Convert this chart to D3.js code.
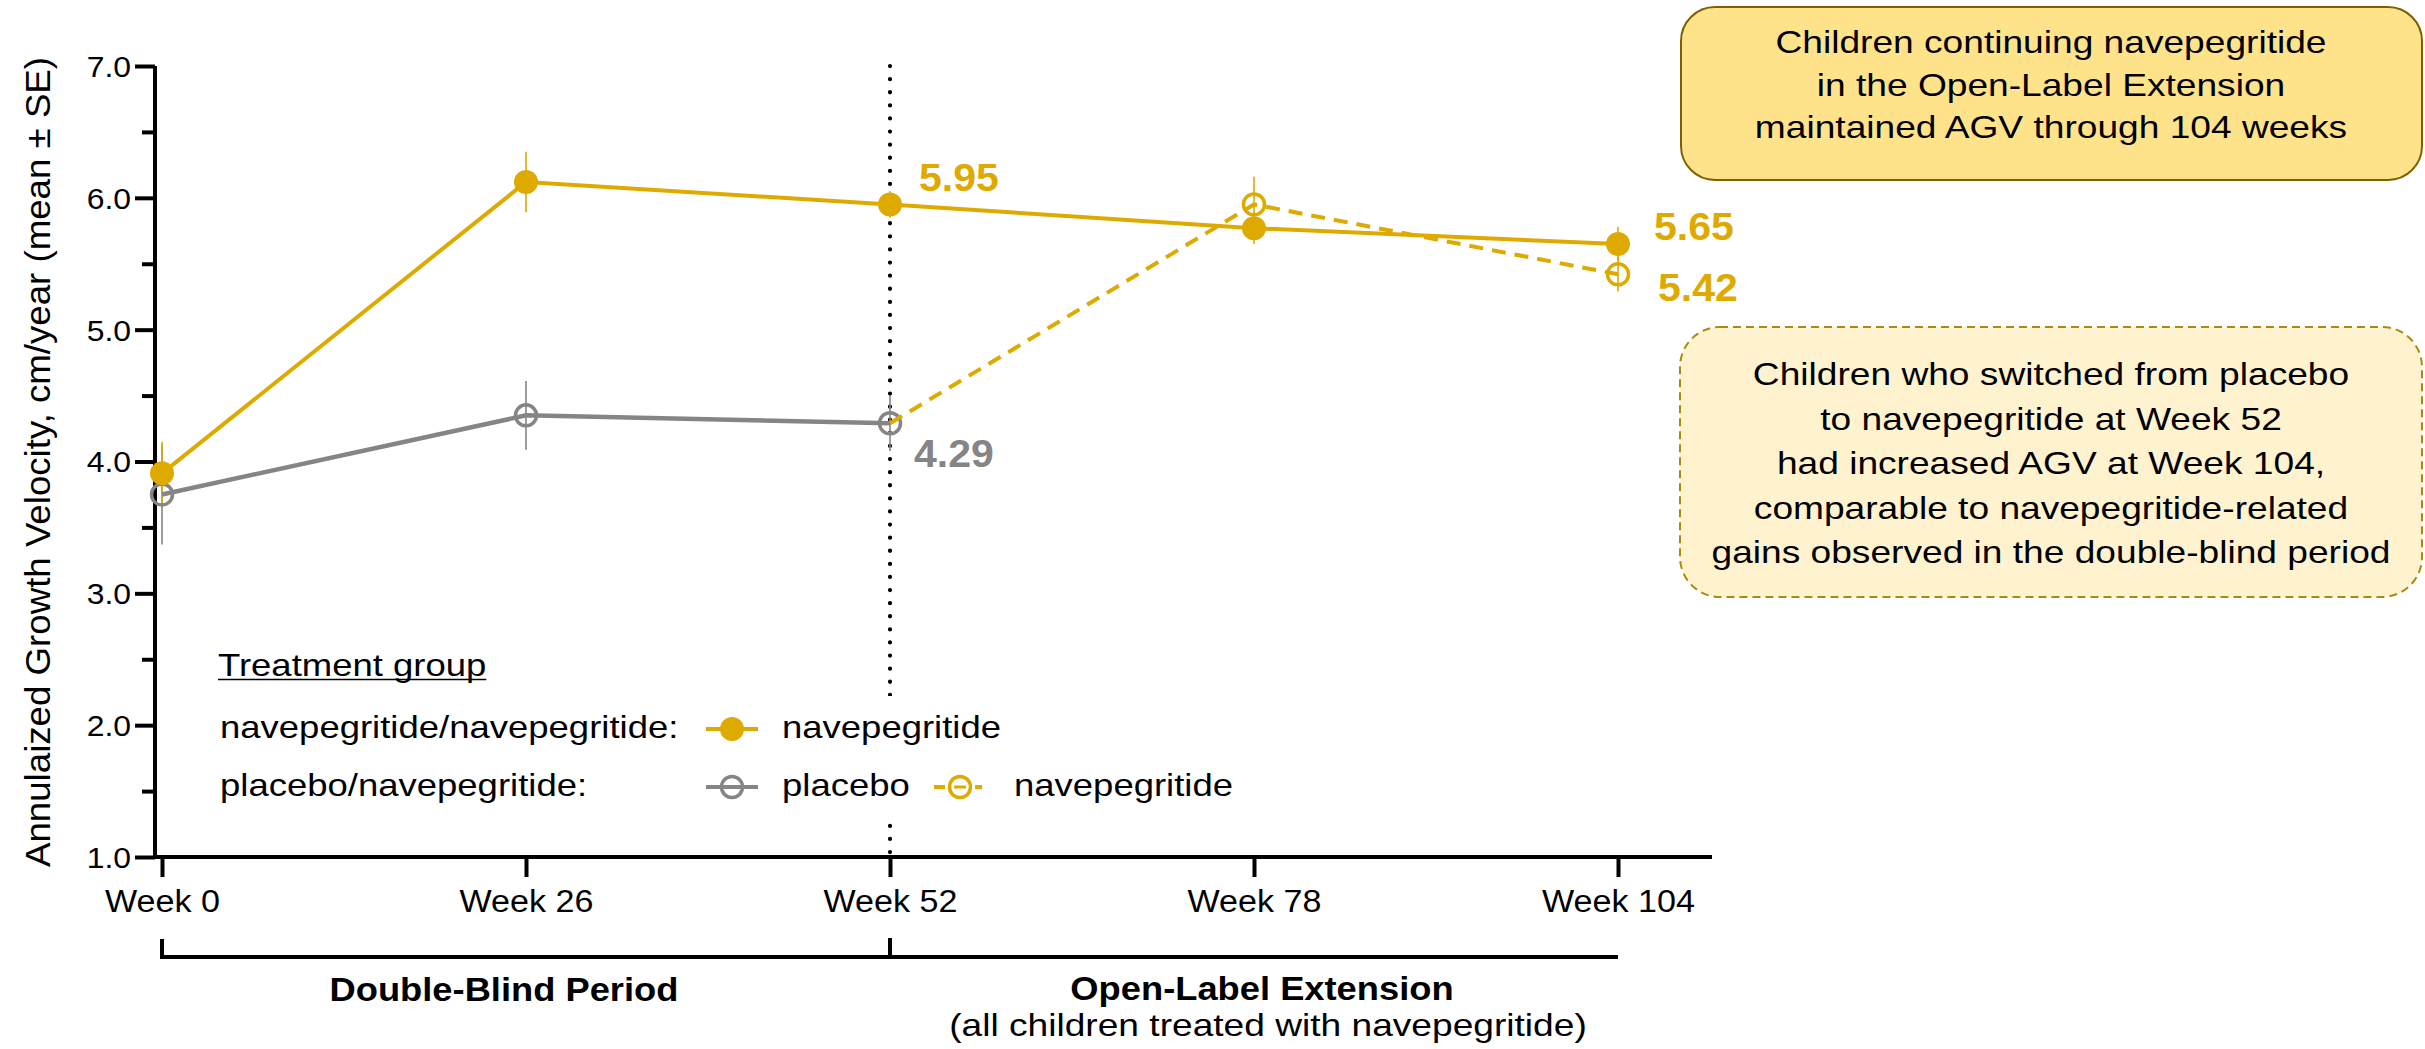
<!DOCTYPE html>
<html>
<head>
<meta charset="utf-8">
<script src="https://cdn.jsdelivr.net/npm/d3@7"></script>
<style>
  body { margin: 0; background: #fff; }
  svg { display: block; font-family: "Liberation Sans", Arial, sans-serif; }
</style>
</head>
<body>
<svg id="chart" width="2425" height="1049"></svg>
<script>
// weeks on the x axis
var weeks = ["Week 0", "Week 26", "Week 52", "Week 78", "Week 104"];
var yTicks = [1, 2, 3, 4, 5, 6, 7];
var yMinor = [1.5, 2.5, 3.5, 4.5, 5.5, 6.5];

// navepegritide/navepegritide
var navWeeks = ["Week 0", "Week 26", "Week 52", "Week 78", "Week 104"];
var navMean = [3.91, 6.12, 5.95, 5.77, 5.65];
var navSE = [0.24, 0.23, 0.10, 0.12, 0.13];

// placebo (double-blind period)
var pboWeeks = ["Week 0", "Week 26", "Week 52"];
var pboMean = [3.75, 4.35, 4.29];
var pboSE = [0.38, 0.26, 0.21];

// placebo -> navepegritide (open-label extension)
var oleWeeks = ["Week 52", "Week 78", "Week 104"];
var oleMean = [4.29, 5.95, 5.42];
var oleSE = [0, 0.21, 0.13];

var gold = "#DEAA00", grey = "#858585";

var svg = d3.select("#chart");

var x = d3.scalePoint().domain(weeks).range([162, 1618]);
var y = d3.scaleLinear().domain([1, 7]).range([857, 66]);

// widen text a bit, the source artwork is horizontally stretched
function stretch(sel, k) {
  sel.each(function () {
    var w = this.getComputedTextLength();
    d3.select(this).attr("textLength", w * k).attr("lengthAdjust", "spacingAndGlyphs");
  });
}

// ---- axes
var yAxis = svg.append("g")
  .attr("transform", "translate(155,0)")
  .call(d3.axisLeft(y).tickValues(yTicks).tickFormat(d3.format(".1f")).tickSize(20).tickSizeOuter(0).tickPadding(4));
yAxis.select(".domain").attr("stroke-width", 4).attr("d", "M0,859V66");
yAxis.selectAll(".tick line").attr("stroke-width", 4);
yAxis.selectAll(".tick text").attr("font-size", 29).attr("font-family", "Liberation Sans, Arial").attr("fill", "#000").attr("dy", "0.36em");
stretch(yAxis.selectAll(".tick text"), 1.1);

var yMin = svg.append("g")
  .attr("transform", "translate(155,0)")
  .call(d3.axisLeft(y).tickValues(yMinor).tickFormat("").tickSize(13).tickSizeOuter(0));
yMin.select(".domain").remove();
yMin.selectAll(".tick line").attr("stroke-width", 4);

var xAxis = svg.append("g")
  .attr("transform", "translate(0,857)")
  .call(d3.axisBottom(x).tickSize(20).tickSizeOuter(0).tickPadding(13));
xAxis.select(".domain").attr("stroke-width", 4).attr("d", "M153,0H1712");
xAxis.selectAll(".tick line").attr("stroke-width", 4);
xAxis.selectAll(".tick text").attr("font-size", 31).attr("font-family", "Liberation Sans, Arial").attr("fill", "#000");
stretch(xAxis.selectAll(".tick text"), 1.1);

// y title
svg.append("text")
  .attr("transform", "translate(38,462) rotate(-90)")
  .attr("text-anchor", "middle")
  .attr("dy", "0.35em")
  .attr("font-size", 35)
  .text("Annulaized Growth Velocity, cm/year (mean \u00b1 SE)")
  .attr("textLength", 810).attr("lengthAdjust", "spacingAndGlyphs");

// dotted divider at week 52
svg.append("line")
  .attr("x1", x("Week 52")).attr("x2", x("Week 52"))
  .attr("y1", y(7)).attr("y2", y(1) - 4)
  .attr("stroke", "#000").attr("stroke-width", 4.2)
  .attr("stroke-linecap", "round").attr("stroke-dasharray", "0.1 13");

// ---- series
function pts(ws, ms, ss) {
  return ws.map(function (w, i) { return { w: w, m: ms[i], se: ss[i] }; });
}
var nav = pts(navWeeks, navMean, navSE);
var pbo = pts(pboWeeks, pboMean, pboSE);
var ole = pts(oleWeeks, oleMean, oleSE);

var line = d3.line().x(function (d) { return x(d.w); }).y(function (d) { return y(d.m); });

function errBars(data, color) {
  svg.append("g").selectAll("line").data(data.filter(function (d) { return d.se > 0; }))
    .enter().append("line")
    .attr("x1", function (d) { return x(d.w); }).attr("x2", function (d) { return x(d.w); })
    .attr("y1", function (d) { return y(d.m + d.se); }).attr("y2", function (d) { return y(d.m - d.se); })
    .attr("stroke", color).attr("stroke-width", 1.6);
}
errBars(pbo, grey);
errBars(ole, gold);
errBars(nav, gold);

// placebo
svg.append("path").datum(pbo).attr("d", line)
  .attr("fill", "none").attr("stroke", grey).attr("stroke-width", 4.5);
svg.append("g").selectAll("circle").data(pbo).enter().append("circle")
  .attr("cx", function (d) { return x(d.w); }).attr("cy", function (d) { return y(d.m); })
  .attr("r", 10.5).attr("fill", "none").attr("stroke", grey).attr("stroke-width", 3.5);

// switched to navepegritide
svg.append("path").datum(ole).attr("d", line)
  .attr("fill", "none").attr("stroke", gold).attr("stroke-width", 4)
  .attr("stroke-dasharray", "14 9");
svg.append("g").selectAll("circle").data(ole.slice(1)).enter().append("circle")
  .attr("cx", function (d) { return x(d.w); }).attr("cy", function (d) { return y(d.m); })
  .attr("r", 10.5).attr("fill", "none").attr("stroke", gold).attr("stroke-width", 3.5);

// navepegritide
svg.append("path").datum(nav).attr("d", line)
  .attr("fill", "none").attr("stroke", gold).attr("stroke-width", 4);
svg.append("g").selectAll("circle").data(nav).enter().append("circle")
  .attr("cx", function (d) { return x(d.w); }).attr("cy", function (d) { return y(d.m); })
  .attr("r", 12).attr("fill", gold);

// value labels
function valueLabel(w, v, dx, dy, color) {
  var t = svg.append("text")
    .attr("x", x(w) + dx).attr("y", y(v) + dy)
    .attr("font-size", 38).attr("font-weight", "bold").attr("fill", color)
    .text(d3.format(".2f")(v));
  stretch(t, 1.08);
}
valueLabel("Week 52", navMean[2], 29, -13, gold);
valueLabel("Week 52", pboMean[2], 24, 44, grey);
valueLabel("Week 104", navMean[4], 36, -4, gold);
valueLabel("Week 104", oleMean[2], 40, 27, gold);

// ---- legend
svg.append("rect").attr("x", 205).attr("y", 696).attr("width", 1050).attr("height", 122).attr("fill", "#fff");

function legText(tx, ty, s, anchor) {
  var t = svg.append("text").attr("x", tx).attr("y", ty).attr("font-size", 32)
    .attr("text-anchor", anchor || "start").text(s);
  stretch(t, 1.14);
  return t;
}
var tg = legText(218, 676, "Treatment group");
svg.append("line").attr("x1", 218).attr("x2", 218 + (+tg.attr("textLength")))
  .attr("y1", 679.5).attr("y2", 679.5).attr("stroke", "#000").attr("stroke-width", 1.5);
legText(220, 738, "navepegritide/navepegritide:");
legText(220, 796, "placebo/navepegritide:");

function legMark(cx, cy, color, filled, dashed) {
  var g = svg.append("g");
  if (dashed) {
    g.append("line").attr("x1", cx - 26).attr("x2", cx - 15).attr("y1", cy).attr("y2", cy)
      .attr("stroke", color).attr("stroke-width", 4);
    g.append("line").attr("x1", cx + 15).attr("x2", cx + 22).attr("y1", cy).attr("y2", cy)
      .attr("stroke", color).attr("stroke-width", 4);
    g.append("line").attr("x1", cx - 6).attr("x2", cx + 6).attr("y1", cy).attr("y2", cy)
      .attr("stroke", color).attr("stroke-width", 3);
  } else {
    g.append("line").attr("x1", cx - 26).attr("x2", cx + 26).attr("y1", cy).attr("y2", cy)
      .attr("stroke", color).attr("stroke-width", 4);
  }
  g.append("circle").attr("cx", cx).attr("cy", cy).attr("r", filled ? 12 : 10.5)
    .attr("fill", filled ? color : "none").attr("stroke", filled ? "none" : color).attr("stroke-width", 3.5);
}
legMark(732, 729, gold, true, false);
legText(782, 738, "navepegritide");
legMark(732, 787, grey, false, false);
legText(782, 796, "placebo");
legMark(960, 787, gold, false, true);
legText(1014, 796, "navepegritide");

// ---- period brackets
svg.append("path")
  .attr("d", "M" + x("Week 0") + ",939V957H" + x("Week 104"))
  .attr("fill", "none").attr("stroke", "#000").attr("stroke-width", 4);
svg.append("line").attr("x1", x("Week 52")).attr("x2", x("Week 52")).attr("y1", 938).attr("y2", 957)
  .attr("stroke", "#000").attr("stroke-width", 4);

var p1 = svg.append("text").attr("x", 504).attr("y", 1001).attr("text-anchor", "middle")
  .attr("font-size", 33).attr("font-weight", "bold").text("Double-Blind Period");
stretch(p1, 1.1);
var p2 = svg.append("text").attr("x", 1262).attr("y", 1000).attr("text-anchor", "middle")
  .attr("font-size", 33).attr("font-weight", "bold").text("Open-Label Extension");
stretch(p2, 1.1);
var p3 = svg.append("text").attr("x", 1268).attr("y", 1036).attr("text-anchor", "middle")
  .attr("font-size", 32).text("(all children treated with navepegritide)");
stretch(p3, 1.16);

// ---- callout boxes
svg.append("rect").attr("x", 1681).attr("y", 7).attr("width", 741).attr("height", 173)
  .attr("rx", 34).attr("fill", "#FFE38B").attr("stroke", "#7F6000").attr("stroke-width", 2);
var box1 = ["Children continuing navepegritide", "in the Open-Label Extension", "maintained AGV through 104 weeks"];
box1.forEach(function (s, i) {
  var t = svg.append("text").attr("x", 2051).attr("y", 53 + i * 42.5).attr("text-anchor", "middle")
    .attr("font-size", 32).text(s);
  stretch(t, 1.16);
});

svg.append("rect").attr("x", 1680).attr("y", 327).attr("width", 742).attr("height", 270)
  .attr("rx", 40).attr("fill", "#FFF3CF").attr("stroke", "#A88A10").attr("stroke-width", 2)
  .attr("stroke-dasharray", "8 5");
var box2 = ["Children who switched from placebo", "to navepegritide at Week 52", "had increased AGV at Week 104,",
  "comparable to navepegritide-related", "gains observed in the double-blind period"];
box2.forEach(function (s, i) {
  var t = svg.append("text").attr("x", 2051).attr("y", 385 + i * 44.5).attr("text-anchor", "middle")
    .attr("font-size", 32).text(s);
  stretch(t, 1.16);
});
</script>
</body>
</html>
